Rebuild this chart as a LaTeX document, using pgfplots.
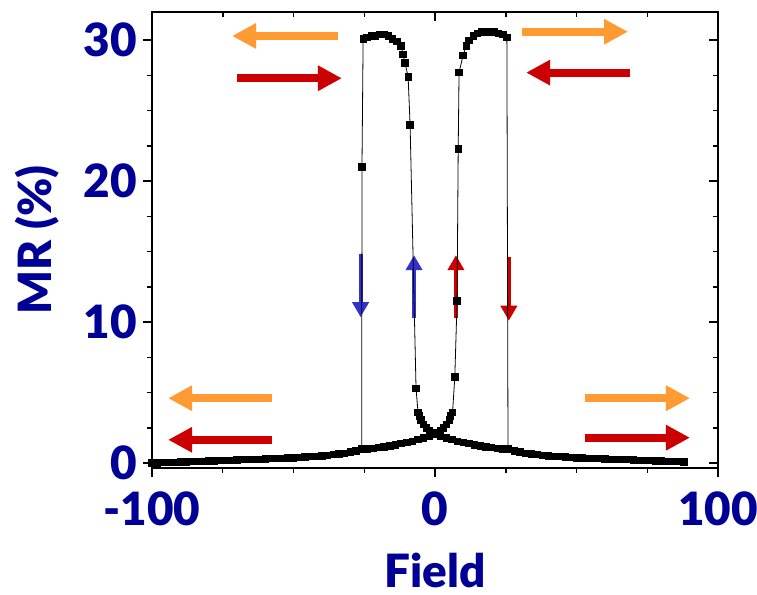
\documentclass[border=0pt]{standalone}
\usepackage{fontspec}
\IfFontExistsTF{Lato Black}{\setmainfont{Lato}[BoldFont={Lato Black}]}{\setmainfont{Lato}}
\usepackage{pgfplots}
\pgfplotsset{compat=1.18}
\usetikzlibrary{arrows.meta}
\definecolor{navy}{RGB}{0,0,150}
\definecolor{arrorange}{RGB}{255,155,50}
\definecolor{arrred}{RGB}{204,0,0}
\definecolor{arrblue}{RGB}{51,51,204}
\newcommand{\bigfont}{\bfseries\fontsize{46}{46}\selectfont}

% sweep from positive to negative field
\pgfplotstableread{
x y
88 0.09
86 0.10
84 0.12
82 0.13
80 0.15
78 0.16
76 0.18
74 0.19
72 0.21
70 0.22
68 0.24
66 0.25
64 0.27
62 0.28
60 0.30
58 0.31
56 0.33
54 0.34
52 0.36
50 0.38
48 0.40
46 0.43
44 0.46
42 0.49
40 0.52
38 0.56
36 0.60
34 0.65
32 0.70
30 0.78
28 0.86
26 0.95
24 1.00
22 1.05
20 1.10
18 1.16
16 1.22
14 1.30
12 1.38
10 1.46
8 1.55
6 1.66
4 1.78
2 1.90
0 2.02
-1 2.15
-2 2.30
-3 2.50
-4 2.75
-5 3.05
-5.5 3.35
-6 3.6
-6.7 5.3
-8.8 24.0
-9.5 27.4
-10.6 28.4
-11.3 29.0
-12 29.6
-13.5 29.9
-15 30.1
-16.5 30.3
-18 30.4
-19.5 30.4
-21 30.3
-22.5 30.3
-24 30.2
-25.4 30.1
-25.8 21.0
-25.9 1.0
-28 0.86
-30 0.78
-32 0.70
-34 0.65
-36 0.60
-38 0.56
-40 0.52
-42 0.49
-44 0.46
-46 0.43
-48 0.40
-50 0.38
-52 0.36
-54 0.34
-56 0.33
-58 0.31
-60 0.30
-62 0.28
-64 0.27
-66 0.25
-68 0.24
-70 0.22
-72 0.21
-74 0.19
-76 0.18
-78 0.16
-80 0.15
-82 0.13
-84 0.12
-86 0.10
-88 0.09
-90 0.07
-92 0.06
-94 0.05
-96 0.03
-98 0.02
-100 0.00
}\down

% sweep from negative to positive field
\pgfplotstableread{
x y
-100 0.00
-98 0.02
-96 0.03
-94 0.05
-92 0.06
-90 0.07
-88 0.09
-86 0.10
-84 0.12
-82 0.13
-80 0.15
-78 0.16
-76 0.18
-74 0.19
-72 0.21
-70 0.22
-68 0.24
-66 0.25
-64 0.27
-62 0.28
-60 0.30
-58 0.31
-56 0.33
-54 0.34
-52 0.36
-50 0.38
-48 0.40
-46 0.43
-44 0.46
-42 0.49
-40 0.52
-38 0.56
-36 0.60
-34 0.65
-32 0.70
-30 0.78
-28 0.86
-26 0.95
-24 1.00
-22 1.05
-20 1.10
-18 1.16
-16 1.22
-14 1.30
-12 1.38
-10 1.46
-8 1.55
-6 1.66
-4 1.78
-2 1.90
0 2.02
1 2.15
2 2.30
3 2.50
4 2.75
5 3.05
5.5 3.35
6.2 3.6
7 6.1
7.8 11.5
8.2 22.3
8.5 27.7
9.9 28.9
11 29.6
12 30.0
13.5 30.3
15 30.5
16.5 30.6
18 30.6
19.5 30.6
21 30.6
22.5 30.5
24 30.4
25.4 30.2
25.8 1.0
28 0.86
30 0.78
32 0.70
34 0.65
36 0.60
38 0.56
40 0.52
42 0.49
44 0.46
46 0.43
48 0.40
50 0.38
52 0.36
54 0.34
56 0.33
58 0.31
60 0.30
62 0.28
64 0.27
66 0.25
68 0.24
70 0.22
72 0.21
74 0.19
76 0.18
78 0.16
80 0.15
82 0.13
84 0.12
86 0.10
88 0.09
}\up

\begin{document}
\begin{tikzpicture}
\begin{axis}[
  scale only axis, width=566bp, height=456bp,
  xmin=-100, xmax=100, ymin=-0.35, ymax=32,
  xtick={-100,0,100}, xticklabels={-100,0,100},
  ytick={0,10,20,30}, yticklabels={0,10,20,30},
  minor x tick num=3, minor y tick num=3,
  xtick pos=left, ytick pos=left, tick align=outside,
  major tick length=9bp, minor tick length=5bp,
  every tick/.style={black, line width=1.5bp},
  axis line style={line width=2bp},
  xticklabel style={font=\bigfont, text=navy, inner sep=0pt, anchor=base, yshift=-48bp},
  yticklabel style={font=\bigfont, text=navy, inner sep=0pt, anchor=east, xshift=-6bp},
  xlabel={Field}, ylabel={MR (\%)},
  xlabel style={font=\bigfont, text=navy, inner sep=0pt, anchor=base, at={(axis description cs:0.5,-0.262)}},
  ylabel style={font=\bigfont, text=navy, inner sep=0pt, anchor=center, at={(axis description cs:-0.203,0.5)}},
]
% field sweep arrows
\draw[arrorange, line width=8bp, -{Triangle[length=24bp,width=24bp]}] (axis cs:-34.3,30.3) -- (axis cs:-71.7,30.3);
\draw[arrred, line width=8bp, -{Triangle[length=24bp,width=24bp]}] (axis cs:-70,27.3) -- (axis cs:-32.9,27.3);
\draw[arrorange, line width=8bp, -{Triangle[length=24bp,width=24bp]}] (axis cs:30.7,30.6) -- (axis cs:68.2,30.6);
\draw[arrred, line width=8bp, -{Triangle[length=24bp,width=24bp]}] (axis cs:68.9,27.7) -- (axis cs:32.2,27.7);
\draw[arrorange, line width=8bp, -{Triangle[length=24bp,width=24bp]}] (axis cs:-57.6,4.6) -- (axis cs:-94.3,4.6);
\draw[arrred, line width=8bp, -{Triangle[length=24bp,width=24bp]}] (axis cs:-57.6,1.65) -- (axis cs:-94.3,1.65);
\draw[arrorange, line width=8bp, -{Triangle[length=24bp,width=24bp]}] (axis cs:53,4.6) -- (axis cs:90.1,4.6);
\draw[arrred, line width=8bp, -{Triangle[length=24bp,width=24bp]}] (axis cs:53,1.8) -- (axis cs:90.1,1.8);
% switching arrows
\draw[arrblue, line width=4bp, -{Triangle[length=15bp,width=16bp]}] (axis cs:-26.3,14.8) -- (axis cs:-26.3,10.35);
\draw[arrblue, line width=4bp, -{Triangle[length=15bp,width=16bp]}] (axis cs:-7.4,10.3) -- (axis cs:-7.4,14.75);
\draw[arrred, line width=4bp, -{Triangle[length=15bp,width=16bp]}] (axis cs:7.4,10.3) -- (axis cs:7.4,14.75);
\draw[arrred, line width=4bp, -{Triangle[length=15bp,width=16bp]}] (axis cs:26.1,14.6) -- (axis cs:26.1,10.1);

\addplot[black, line width=0.8bp, mark=square*, mark size=3.2bp] table {\down};
\addplot[black, line width=0.8bp, mark=square*, mark size=3.2bp] table {\up};
\end{axis}
\begin{axis}[
  scale only axis, width=566bp, height=456bp,
  xmin=-100, xmax=100, ymin=-0.35, ymax=32,
  xtick={-100,0,100}, ytick={0,10,20,30},
  xticklabels={}, yticklabels={},
  minor x tick num=3, minor y tick num=3,
  xtick pos=right, ytick pos=right, tick align=inside,
  major tick length=9bp, minor tick length=5bp,
  every tick/.style={black, line width=1.5bp},
  axis line style={line width=2bp},
]
\end{axis}
\pgfresetboundingbox
\path (current axis.south west) ++(-152bp,-127bp) rectangle ++(757bp,595bp);
\end{tikzpicture}
\end{document}
